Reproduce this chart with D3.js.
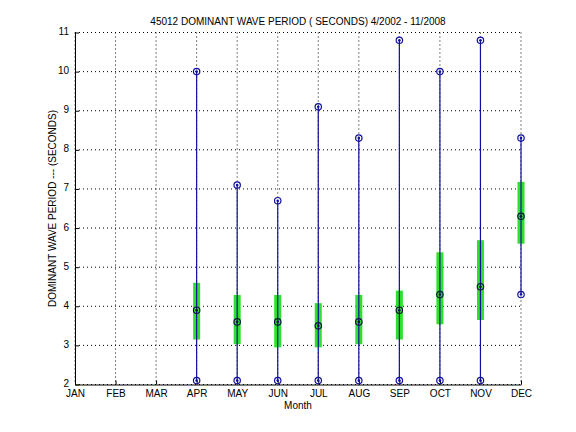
<!DOCTYPE html>
<html><head><meta charset="utf-8">
<script src="https://cdn.jsdelivr.net/npm/d3@7"></script>
<style>
body{margin:0;background:#fff;}
text{font-family:"Liberation Sans",Arial,Helvetica,sans-serif;}
</style></head>
<body><svg id="c" width="576" height="432"></svg>
<script>
const monthLabels = ["JAN","FEB","MAR","APR","MAY","JUN","JUL","AUG","SEP","OCT","NOV","DEC"];
const months = [4,5,6,7,8,9,10,11,12];
const minVals = [2.1,2.1,2.1,2.1,2.1,2.1,2.1,2.1,4.3];
const maxVals = [10.0,7.1,6.7,9.1,8.3,10.8,10.0,10.8,8.3];
const medianVals = [3.9,3.6,3.6,3.5,3.6,3.9,4.3,4.5,6.3];
const q1Vals = [3.15,3.03,2.95,2.95,3.03,3.15,3.54,3.65,5.6];
const q3Vals = [4.6,4.29,4.29,4.08,4.29,4.4,5.38,5.69,7.18];
const yTicks = [2,3,4,5,6,7,8,9,10,11];
const titleText = "45012  DOMINANT WAVE PERIOD ( SECONDS) 4/2002 - 11/2008";
const xLabelText = "Month";
const yLabelText = "DOMINANT WAVE PERIOD --- (SECONDS)";

const svg = d3.select("#c");
const L = 75, R = 521, T = 32.5, B = 384.5;
const x = d3.scaleLinear().domain([1,12]).range([L,R]);
const y = d3.scaleLinear().domain([2,11]).range([B,T]);
const blue = "#10109e", green = "#2ee02e";

// grid
const g = svg.append("g");
g.selectAll(".gx").data(d3.range(1,13)).join("line")
  .attr("x1",d=>x(d)).attr("x2",d=>x(d)).attr("y1",T).attr("y2",B)
  .attr("stroke","#000").attr("stroke-width",1).attr("stroke-dasharray","1,3");
g.selectAll(".gy").data(yTicks).join("line")
  .attr("x1",L).attr("x2",R).attr("y1",d=>y(d)).attr("y2",d=>y(d))
  .attr("stroke","#000").attr("stroke-width",1).attr("stroke-dasharray","1,3");

// axes
const xAxis = d3.axisBottom(x).tickValues(d3.range(1,13)).tickFormat(d=>monthLabels[d-1]).tickSizeInner(-4).tickSizeOuter(0).tickPadding(5);
const yAxis = d3.axisLeft(y).tickValues(yTicks).tickFormat(d3.format("d")).tickSizeInner(-4).tickSizeOuter(0).tickPadding(6);
const ax = svg.append("g").attr("transform",`translate(0,${B})`).call(xAxis);
const ay = svg.append("g").attr("transform",`translate(${L},0)`).call(yAxis);
[ax,ay].forEach(a=>{
  a.select(".domain").attr("stroke","#000").attr("stroke-width",1);
  a.selectAll(".tick line").attr("stroke","#000");
  a.selectAll(".tick text").attr("font-size",10).attr("fill","#000");
});
ay.selectAll(".tick text").attr("dy","0.2em");

// data
const data = months.map((m,i)=>({m,min:minVals[i],max:maxVals[i],med:medianVals[i],q1:q1Vals[i],q3:q3Vals[i]}));
const d = svg.append("g");
d.selectAll(".bar").data(data).join("rect")
  .attr("x",e=>x(e.m)-3.5).attr("width",7)
  .attr("y",e=>y(e.q3)).attr("height",e=>y(e.q1)-y(e.q3))
  .attr("fill",green);
d.selectAll(".rng").data(data).join("line")
  .attr("x1",e=>x(e.m)).attr("x2",e=>x(e.m))
  .attr("y1",e=>y(e.min)).attr("y2",e=>y(e.max))
  .attr("stroke",blue).attr("stroke-width",1.2);
const pts = [];
data.forEach(e=>{pts.push({m:e.m,v:e.min,c:blue});pts.push({m:e.m,v:e.max,c:blue});pts.push({m:e.m,v:e.med,c:"#101040"});});
d.selectAll(".pt").data(pts).join("circle")
  .attr("cx",p=>x(p.m)).attr("cy",p=>y(p.v)).attr("r",3.2)
  .attr("fill","none").attr("stroke",p=>p.c).attr("stroke-width",1.2);
d.selectAll(".pd").data(pts).join("circle")
  .attr("cx",p=>x(p.m)).attr("cy",p=>y(p.v)).attr("r",1.3)
  .attr("fill",p=>p.c);

// labels
svg.append("text").attr("x",(L+R)/2).attr("y",25).attr("text-anchor","middle")
  .attr("font-size",10).text(titleText);
svg.append("text").attr("x",(L+R)/2).attr("y",409).attr("text-anchor","middle")
  .attr("font-size",10).text(xLabelText);
svg.append("text").attr("transform",`translate(56,${(T+B)/2}) rotate(-90)`).attr("text-anchor","middle")
  .attr("font-size",10).text(yLabelText);
</script></body></html>
